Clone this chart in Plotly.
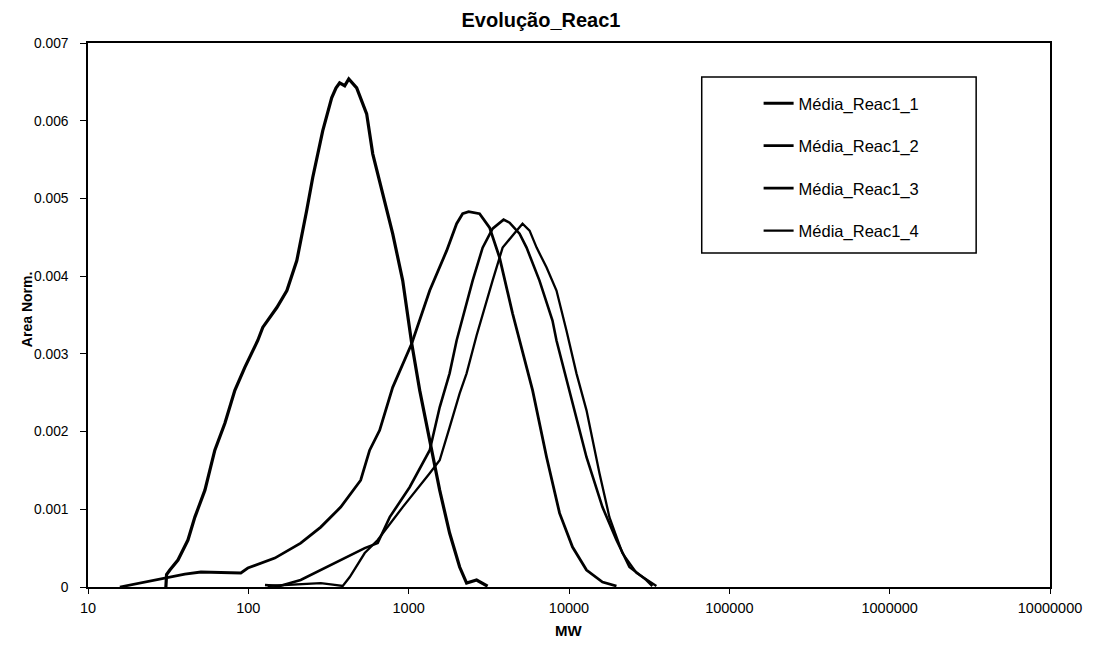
import plotly.graph_objects as go

# ---- data ----
series_names = ["Média_Reac1_1", "Média_Reac1_2", "Média_Reac1_3", "Média_Reac1_4"]

mw_1 = [30.6, 30.9, 32.4, 36.4, 42.0, 46.4, 53.6, 61.8, 71.4, 82.4, 95.1, 114.5, 123, 150.6, 174,
        200.6, 231, 252, 291, 331, 352, 371, 399, 423, 474, 547, 597, 689, 795, 918, 1045, 1172, 1353,
        1561, 1800, 2080, 2298, 2652, 3106]
area_1 = [0.0, 0.00016, 0.000218, 0.000347, 0.000604, 0.000899, 0.001246, 0.00176, 0.002106,
          0.00253, 0.002826, 0.003172, 0.00334, 0.003596, 0.003815, 0.0042, 0.004842, 0.005266,
          0.00587, 0.006294, 0.006420, 0.006486, 0.006450, 0.006538, 0.006422, 0.006088, 0.005574, 0.00506,
          0.004547, 0.003943, 0.003134, 0.00253, 0.001888, 0.001246, 0.000694, 0.000257, 0.00005,
          0.00009, 0.00001]

mw_2 = [15.8, 18.3, 20.5, 26.1, 31.5, 40.2, 50.6, 89.8, 99.3, 146.3, 212, 283, 377, 502, 571, 659,
        795, 1045, 1353, 1726, 1991, 2170, 2366, 2769, 3197, 3690, 4448, 4917, 5930, 7248, 8734,
        10520, 12860, 16170, 19770]
area_2 = [0.0, 0.000026, 0.00005, 0.00009, 0.000128, 0.000167, 0.000193, 0.00018, 0.000244,
          0.000372, 0.000565, 0.000771, 0.001028, 0.001374, 0.00176, 0.002016, 0.002569, 0.003134,
          0.003815, 0.004328, 0.004675, 0.004804, 0.004829, 0.004804, 0.004624, 0.004239, 0.003519,
          0.003172, 0.00253, 0.00167, 0.00095, 0.000514, 0.000218, 0.000064, 0.000013]

mw_3 = [127, 157, 212, 283, 377, 532, 641, 762, 1014, 1222, 1353, 1561, 1800, 1991, 2506, 2893,
        3337, 3909, 4260, 4917, 5437, 6546, 7889, 8356, 10070, 12860, 16170, 19770, 23820, 30400,
        33130]
area_3 = [0.000026, 0.000013, 0.00009, 0.000218, 0.000347, 0.000501, 0.000565, 0.000899, 0.001284,
          0.001593, 0.00176, 0.002312, 0.002749, 0.003172, 0.003943, 0.004367, 0.004611, 0.004727,
          0.004688, 0.004547, 0.004367, 0.003943, 0.003429, 0.003172, 0.00253, 0.00167, 0.001028,
          0.000604, 0.000257, 0.00009, 0.000013]

mw_4 = [132, 209, 283, 346, 388, 429, 532, 641, 918, 1353, 1561, 1800, 2080, 2298, 2652, 3337,
        3855, 4710, 5130, 5677, 6280, 7248, 8356, 9640, 11130, 12860, 15490, 17870, 21520, 26360,
        30850, 35080]
area_4 = [0.000013, 0.000039, 0.000051, 0.000026, 0.000013, 0.000128, 0.000437, 0.000604, 0.001028,
          0.001464, 0.001631, 0.002055, 0.002492, 0.002749, 0.003237, 0.003943, 0.004367, 0.004585,
          0.004675, 0.004585, 0.004367, 0.00411, 0.003815, 0.003301, 0.002749, 0.002273, 0.001464,
          0.000899, 0.000437, 0.00018, 0.00009, 0.000013]

x_tick_vals = [10, 100, 1000, 10000, 100000, 1000000, 10000000]
x_tick_text = ["10", "100", "1000", "10000", "100000", "1000000", "10000000"]
y_tick_vals = [0, 0.001, 0.002, 0.003, 0.004, 0.005, 0.006, 0.007]
y_tick_text = ["0", "0.001", "0.002", "0.003", "0.004", "0.005", "0.006", "0.007"]

# ---- figure ----
FONT = "Liberation Sans, Arial, sans-serif"
widths = [3.2, 2.8, 2.6, 2.3]
xs = [mw_1, mw_2, mw_3, mw_4]
ys = [area_1, area_2, area_3, area_4]

L, R, T, B = 88, 1052, 43, 587
PW, PH = R - L, B - T

fig = go.Figure()
for i in range(4):
    fig.add_trace(go.Scatter(
        x=xs[i], y=ys[i], mode="lines", name=series_names[i],
        legendgroup=f"g{i}",
        line=dict(color="black", width=widths[i]),
    ))

fig.update_layout(
    width=1094, height=645,
    margin=dict(l=L, r=1094 - R, t=T, b=645 - B),
    paper_bgcolor="white", plot_bgcolor="white",
    font=dict(family=FONT, color="black"),
    title=dict(text="<b>Evolução_Reac1</b>", x=541 / 1094, xanchor="center",
               y=1 - 20 / 645, yanchor="middle", font=dict(size=20, family=FONT, color="black")),
    showlegend=True,
    legend=dict(x=(760 - L) / PW, xanchor="left", y=(B - 86) / PH, yanchor="top",
                bgcolor="rgba(0,0,0,0)", borderwidth=0, tracegroupgap=18,
                font=dict(size=16.5, family=FONT, color="black")),
    shapes=[dict(type="rect", xref="paper", yref="paper",
                 x0=(703 - L) / PW, x1=(978 - L) / PW,
                 y0=(B - 253) / PH, y1=(B - 77) / PH,
                 line=dict(color="black", width=1.5), fillcolor="rgba(0,0,0,0)")],
    annotations=[
        dict(text="<b>Area Norm.</b>", textangle=-90, xref="paper", yref="paper",
             x=(27 - L) / PW, y=(B - 310) / PH, xanchor="center", yanchor="middle",
             showarrow=False, font=dict(size=14, family=FONT, color="black")),
        dict(text="<b>MW</b>", xref="paper", yref="paper",
             x=(569 - L) / PW, y=(B - 630) / PH, xanchor="center", yanchor="middle",
             showarrow=False, font=dict(size=15, family=FONT, color="black")),
    ],
)

fig.update_xaxes(
    type="log", range=[1, 7], tickvals=x_tick_vals, ticktext=x_tick_text,
    showgrid=False, zeroline=False, showline=True, linecolor="black", linewidth=1.5,
    mirror=True, ticks="outside", ticklen=5, tickwidth=1.2, tickcolor="black",
    ticklabelstandoff=2,
    tickfont=dict(size=14.5, family=FONT, color="black"),
)
fig.update_yaxes(
    range=[0, 0.007], tickvals=y_tick_vals, ticktext=y_tick_text,
    showgrid=False, zeroline=False, showline=True, linecolor="black", linewidth=1.5,
    mirror=True, ticks="outside", ticklen=6, tickwidth=1.2, tickcolor="black",
    ticklabelstandoff=9,
    tickfont=dict(size=13.8, family=FONT, color="black"),
)

fig.write_html("out.html")
